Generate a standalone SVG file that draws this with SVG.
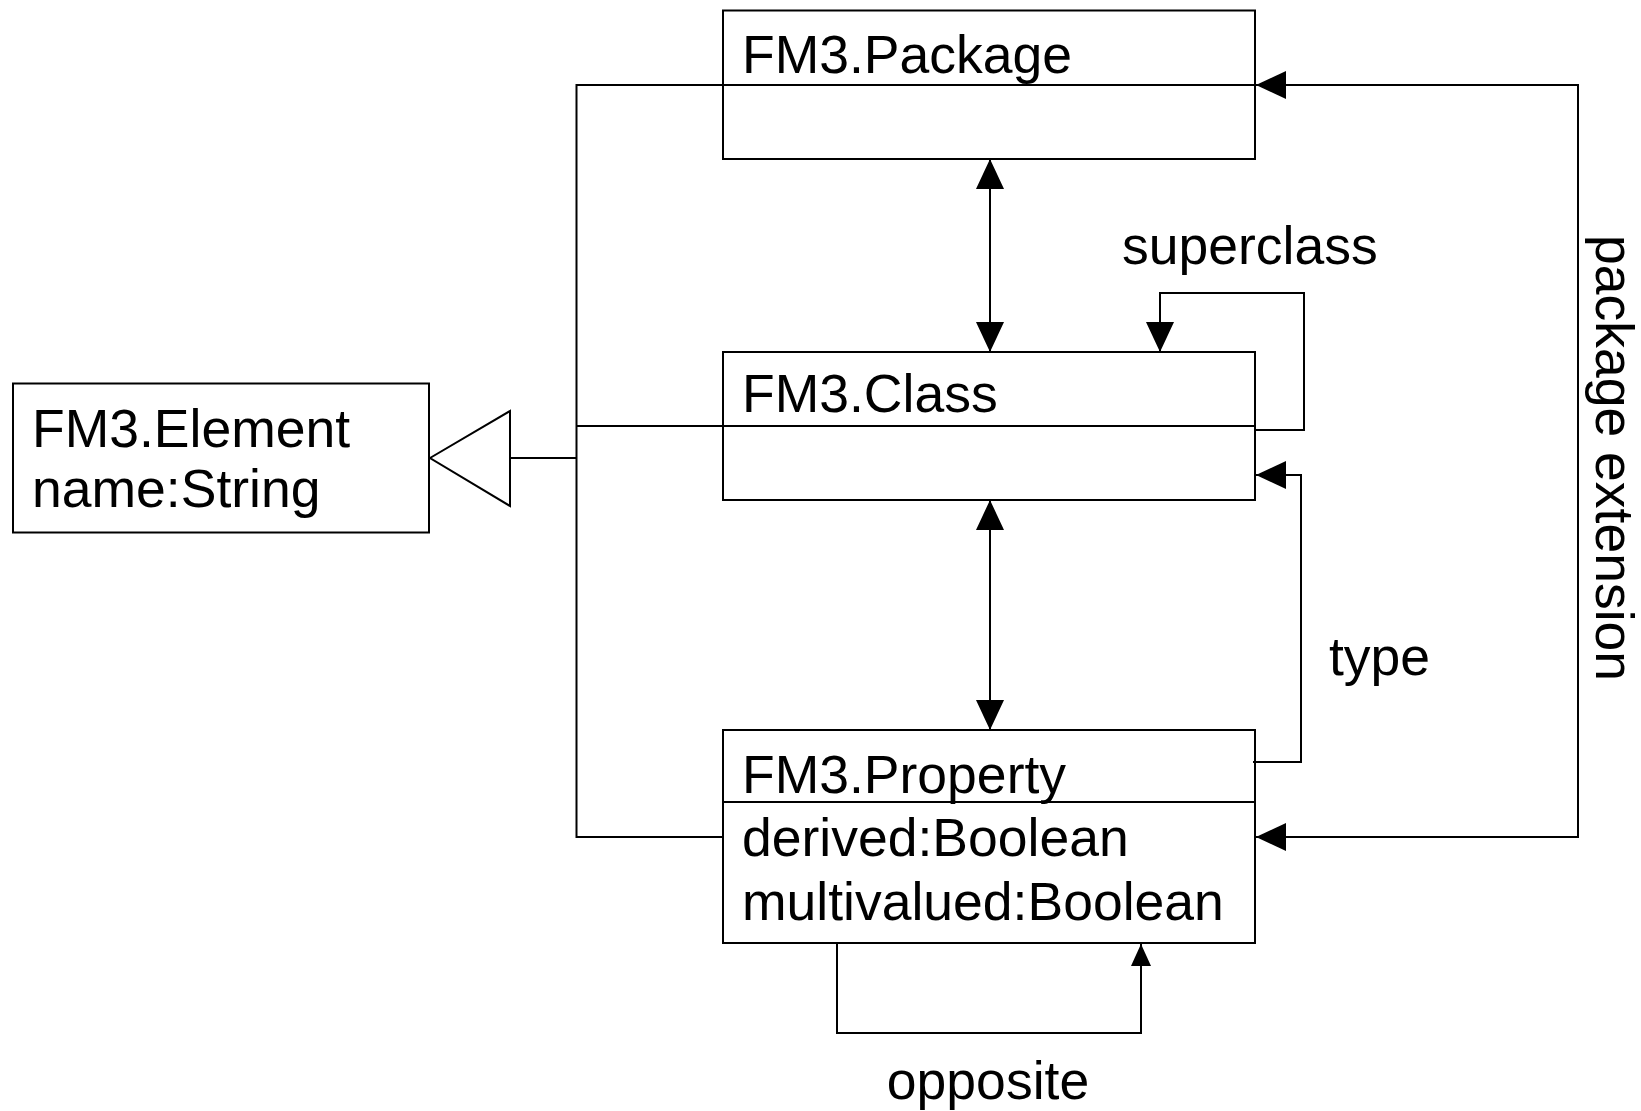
<svg xmlns="http://www.w3.org/2000/svg" width="1641" height="1111" viewBox="0 0 1641 1111">
<defs>
<style>
.box{fill:none;stroke:#000;stroke-width:2}
.div{stroke:#000;stroke-width:2}
.t{font-family:"Liberation Sans",Arial,sans-serif;font-size:53.5px;fill:#000}
.c{fill:none;stroke:#000;stroke-width:2}
</style>
<marker id="arr" viewBox="0 0 30 28" refX="30" refY="14" markerWidth="30" markerHeight="28" markerUnits="userSpaceOnUse" orient="auto-start-reverse">
<path d="M0,0 L30,14 L0,28 z" fill="#000"/>
</marker>
<marker id="arrs" viewBox="0 0 22 20" refX="22" refY="10" markerWidth="22" markerHeight="20" markerUnits="userSpaceOnUse" orient="auto">
<path d="M0,0 L22,10 L0,20 z" fill="#000"/>
</marker>
</defs>
<rect width="1641" height="1111" fill="#fff"/>
<g id="connectors">
<path class="c" d="M723,85 H576.5 V837 H723"/>
<path class="c" d="M576.5,426 H723"/>
<path class="c" d="M576.5,458 H510"/>
<polygon points="430,458 510,411 510,506" fill="#fff" stroke="#000" stroke-width="2"/>
<path class="c" d="M990,159 V352" marker-start="url(#arr)" marker-end="url(#arr)"/>
<path class="c" d="M990,500 V730" marker-start="url(#arr)" marker-end="url(#arr)"/>
<path class="c" d="M1255,430 H1304 V293 H1160 V352" marker-end="url(#arr)"/>
<path class="c" d="M1253,762 H1301 V475 H1256" marker-end="url(#arr)"/>
<path class="c" d="M1256,837 H1578 V85 H1256" marker-start="url(#arr)" marker-end="url(#arr)"/>
<path class="c" d="M837,943 V1033 H1141 V944" marker-end="url(#arrs)"/>
<text class="t" x="1122" y="264">superclass</text>
<text class="t" x="1329" y="675">type</text>
<text class="t" x="988" y="1099" text-anchor="middle">opposite</text>
<text class="t" transform="translate(1596,458) rotate(90)" text-anchor="middle">package extension</text>
</g>
<g id="element">
<rect class="box" x="13" y="383.5" width="416" height="149"/>
<text class="t" x="32" y="447">FM3.Element</text>
<text class="t" x="32" y="507">name:String</text>
</g>
<g id="package">
<rect class="box" x="723" y="10.5" width="532" height="148.5"/>
<line class="div" x1="723" y1="85" x2="1255" y2="85"/>
<text class="t" x="742" y="73">FM3.Package</text>
</g>
<g id="class">
<rect class="box" x="723" y="352" width="532" height="148"/>
<line class="div" x1="723" y1="426" x2="1255" y2="426"/>
<text class="t" x="742" y="412">FM3.Class</text>
</g>
<g id="property">
<rect class="box" x="723" y="730" width="532" height="213"/>
<line class="div" x1="723" y1="802" x2="1255" y2="802"/>
<text class="t" x="742" y="793">FM3.Property</text>
<text class="t" x="742" y="856">derived:Boolean</text>
<text class="t" x="742" y="920">multivalued:Boolean</text>
</g>
</svg>
